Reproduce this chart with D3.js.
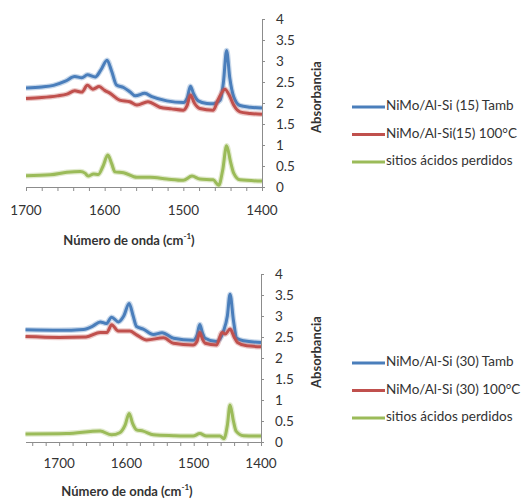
<!DOCTYPE html>
<html>
<head>
<meta charset="utf-8">
<script src="https://cdn.jsdelivr.net/npm/d3@7"></script>
<style>
  body { margin: 0; background: #fff; }
  text { font-family: Lato, "Open Sans", sans-serif; fill: #333; }
  .axis path, .axis line { stroke: #8c8c8c; }
  .axis text { font-size: 13.5px; }
  .title { font-size: 13px; font-weight: bold; }
  .legend text { font-size: 13.5px; }
</style>
</head>
<body>
<div id="chart"></div>
<script>
// DATA  (wavenumber cm-1, absorbance)
const yTicks = [0, 0.5, 1, 1.5, 2, 2.5, 3, 3.5, 4];
const xLabels = [1700, 1600, 1500, 1400];

const names15 = ["NiMo/Al-Si (15) Tamb", "NiMo/Al-Si(15) 100°C", "sitios ácidos perdidos"];
const names30 = ["NiMo/Al-Si (30) Tamb", "NiMo/Al-Si (30) 100°C", "sitios ácidos perdidos"];
const colors = ["#4a7ebb", "#c0504d", "#9bbb59"];

const tamb15 = [[1700,2.36],[1680,2.38],[1665,2.42],[1650,2.52],[1638,2.63],[1629,2.60],[1622,2.67],[1612,2.62],[1605,2.78],[1597,3.02],[1591,2.75],[1585,2.43],[1576,2.37],[1568,2.27],[1561,2.17],[1549,2.23],[1540,2.15],[1521,2.05],[1500,2.01],[1495,2.12],[1491,2.40],[1487,2.22],[1481,2.05],[1470,1.99],[1462,1.98],[1453,2.07],[1449,2.5],[1445,3.25],[1441,2.6],[1436,2.15],[1428,1.94],[1415,1.90],[1400,1.88]];
const c100_15 = [[1700,2.11],[1680,2.13],[1660,2.17],[1648,2.21],[1638,2.29],[1629,2.26],[1622,2.42],[1615,2.33],[1607,2.39],[1600,2.30],[1593,2.23],[1581,2.07],[1568,2.03],[1559,1.95],[1545,2.03],[1530,1.90],[1515,1.86],[1500,1.83],[1495,1.95],[1491,2.19],[1486,2.0],[1479,1.87],[1462,1.83],[1456,2.07],[1447,2.33],[1442,2.2],[1436,1.95],[1428,1.79],[1415,1.75],[1400,1.73]];
const lost15 = [[1700,0.27],[1669,0.29],[1648,0.35],[1631,0.37],[1625,0.33],[1621,0.26],[1614,0.31],[1608,0.30],[1602,0.50],[1596,0.76],[1591,0.55],[1587,0.36],[1576,0.34],[1559,0.23],[1542,0.23],[1521,0.19],[1500,0.16],[1489,0.26],[1479,0.19],[1462,0.17],[1455,0.04],[1450,0.4],[1445,0.98],[1440,0.6],[1436,0.33],[1428,0.17],[1400,0.14]];

const tamb30 = [[1750,2.67],[1700,2.66],[1664,2.68],[1650,2.76],[1639,2.86],[1630,2.82],[1622,2.97],[1612,2.86],[1604,3.0],[1596,3.30],[1590,3.0],[1585,2.75],[1575,2.69],[1560,2.56],[1547,2.60],[1530,2.47],[1501,2.42],[1495,2.55],[1491,2.80],[1487,2.6],[1483,2.47],[1466,2.39],[1456,2.63],[1450,3.0],[1446,3.52],[1441,2.9],[1436,2.47],[1426,2.41],[1400,2.37]];
const c100_30 = [[1750,2.51],[1700,2.49],[1660,2.50],[1639,2.61],[1629,2.61],[1622,2.79],[1612,2.64],[1595,2.64],[1585,2.55],[1570,2.43],[1545,2.48],[1530,2.35],[1501,2.31],[1495,2.4],[1491,2.61],[1487,2.45],[1483,2.35],[1466,2.31],[1458,2.61],[1453,2.57],[1446,2.69],[1440,2.5],[1435,2.37],[1421,2.29],[1400,2.27]];
const lost30 = [[1750,0.19],[1689,0.20],[1639,0.26],[1622,0.17],[1610,0.22],[1602,0.4],[1596,0.68],[1591,0.45],[1585,0.29],[1575,0.26],[1560,0.17],[1530,0.15],[1501,0.14],[1491,0.20],[1481,0.14],[1461,0.14],[1455,0.08],[1450,0.4],[1446,0.88],[1441,0.5],[1437,0.26],[1426,0.15],[1400,0.14]];

let svg = d3.select("#chart")
    .append("svg")
    .attr("width", 524)
    .attr("height", 503);

drawPanel({
    series: [tamb15, c100_15, lost15], names: names15,
    xDomain: [1700, 1400], xRange: [26, 262],
    yRange: [187, 19],
    xLabelY: 212, titleX: 129, titleY: 242,
    absY: 97, legendY: [107, 134.5, 162]
});

drawPanel({
    series: [tamb30, c100_30, lost30], names: names30,
    xDomain: [1750, 1400], xRange: [25.5, 261],
    yRange: [442, 274],
    xLabelY: 465, titleX: 127, titleY: 493,
    absY: 352, legendY: [363, 390.5, 418]
});

function drawPanel(o){
    let xScale = d3.scaleLinear().domain(o.xDomain).range(o.xRange);
    let yScale = d3.scaleLinear().domain([0, 4]).range(o.yRange);
    let g = svg.append("g");

    // X AXIS (minor ticks every 20, labels every 100)
    let xTicks = d3.range(1400, o.xDomain[0] + 1, 20);
    g.append("g")
        .attr("class", "axis")
        .attr("transform", "translate(0," + o.yRange[0] + ")")
        .call(d3.axisBottom(xScale).tickValues(xTicks).tickSize(4).tickSizeOuter(0).tickFormat(""));

    g.append("g")
        .selectAll("text")
        .data(xLabels)
        .enter().append("text")
        .style("font-size", "13.5px")
        .attr("x", d => xScale(d))
        .attr("y", o.xLabelY)
        .attr("text-anchor", "middle")
        .attr("dominant-baseline", "middle")
        .text(d => d);

    let t = g.append("text")
        .attr("class", "title")
        .attr("x", o.titleX)
        .attr("y", o.titleY)
        .attr("text-anchor", "middle")
        .attr("dominant-baseline", "middle");
    t.append("tspan").text("Número de onda (cm");
    t.append("tspan").attr("dy", -5).style("font-size", "8px").text("-1");
    t.append("tspan").attr("dy", 5).text(")");

    // Y AXIS (right side)
    g.append("g")
        .attr("class", "axis")
        .attr("transform", "translate(" + o.xRange[1] + ",0)")
        .call(d3.axisRight(yScale).tickValues(yTicks).tickSize(3).tickSizeOuter(0).tickPadding(11).tickFormat(d => d))
        .selectAll("text").style("text-anchor", "start");

    g.append("text")
        .attr("class", "title")
        .attr("transform", "translate(318," + o.absY + ") rotate(-90)")
        .attr("text-anchor", "middle")
        .attr("dominant-baseline", "middle")
        .text("Absorbancia");

    // LINES
    const line = d3.line()
        .x(d => xScale(d[0]))
        .y(d => yScale(d[1]))
        .curve(d3.curveMonotoneX);

    o.series.forEach((s, i) => {
        g.append("path")
            .attr("d", line(s))
            .attr("fill", "none")
            .attr("stroke", colors[i])
            .attr("stroke-opacity", 0.3)
            .attr("stroke-width", 5.5)
            .attr("stroke-linejoin", "round");
        g.append("path")
            .attr("d", line(s))
            .attr("fill", "none")
            .attr("stroke", colors[i])
            .attr("stroke-width", 3)
            .attr("stroke-linejoin", "round");
    });

    // LEGEND
    let leg = g.append("g").attr("class", "legend");
    o.names.forEach((n, i) => {
        leg.append("line")
            .attr("x1", 352).attr("x2", 385)
            .attr("y1", o.legendY[i]).attr("y2", o.legendY[i])
            .attr("stroke", colors[i])
            .attr("stroke-width", 3);
        leg.append("text")
            .attr("x", 386)
            .attr("y", o.legendY[i])
            .attr("dominant-baseline", "middle")
            .text(n);
    });
}
</script>
</body>
</html>
